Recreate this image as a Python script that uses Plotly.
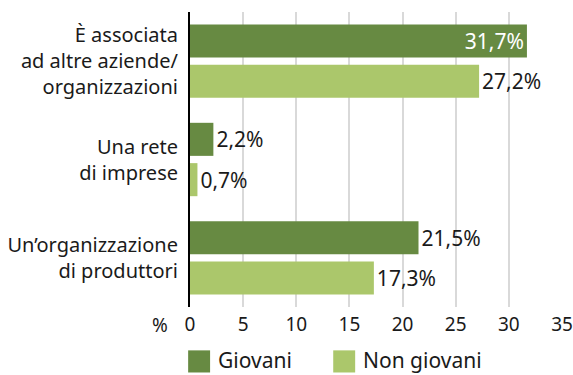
import plotly.graph_objects as go

categories = ["È associata<br>ad altre aziende/<br>organizzazioni",
              "Una rete<br>di imprese",
              "Un’organizzazione<br>di produttori"]
series_names = ["Giovani", "Non giovani"]
giovani = [31.7, 2.2, 21.5]
non_giovani = [27.2, 0.7, 17.3]
x_ticks = [0, 5, 10, 15, 20, 25, 30, 35]

DARK = "#678a42"
LIGHT = "#abc76b"
FONT = "Noto Sans"
TEXT = "#1a1a1a"


def fmt(v):
    return f"{v:.1f}".replace(".", ",") + "%"


def positions(vals, threshold=30):
    return ["inside" if v >= threshold else "outside" for v in vals]


fig = go.Figure()
for name, vals, color in zip(series_names, [giovani, non_giovani], [DARK, LIGHT]):
    fig.add_trace(go.Bar(
        y=categories, x=vals, orientation="h", name=name,
        marker=dict(color=color, line=dict(width=0)),
        text=[fmt(v) for v in vals], textposition=positions(vals),
        insidetextanchor="end",
        insidetextfont=dict(color="white", size=21, family=FONT),
        outsidetextfont=dict(color=TEXT, size=21, family=FONT),
        cliponaxis=False, showlegend=False,
    ))

fig.update_layout(
    width=573, height=375,
    margin=dict(l=190, r=11, t=12, b=68, autoexpand=False),
    paper_bgcolor="white", plot_bgcolor="white",
    barmode="group", bargap=0.18, bargroupgap=0.18,
    font=dict(family=FONT, size=20, color=TEXT),
    showlegend=False,
    uniformtext=dict(minsize=21, mode="show"),
)
fig.update_xaxes(
    range=[0, 35], tickvals=x_ticks, ticktext=[str(t) for t in x_ticks],
    showgrid=True, gridcolor="#d9d9d9", gridwidth=1.5,
    zeroline=False, showline=False, automargin=False,
    tickfont=dict(size=19, family=FONT, color=TEXT),
    ticks="", ticklabelstandoff=4, fixedrange=True,
)
fig.update_yaxes(
    autorange="reversed", showline=True, linecolor="black", linewidth=2,
    ticks="", automargin=False,
    tickfont=dict(size=20, family=FONT, color=TEXT),
    ticklabelstandoff=6,
)
fig.add_annotation(text="%", xref="paper", yref="paper", x=-0.055, y=-0.062,
                   xanchor="right", yanchor="middle", showarrow=False,
                   font=dict(size=19, family=FONT, color=TEXT))

# legend: swatch + label per series, laid out below the axis
legend_x = [-0.005, 0.385]
for name, color, lx in zip(series_names, [DARK, LIGHT], legend_x):
    fig.add_shape(type="rect", xref="paper", yref="paper",
                  x0=lx, x1=lx + 0.059, y0=-0.222, y1=-0.147,
                  fillcolor=color, line=dict(width=0))
    fig.add_annotation(text=name, xref="paper", yref="paper",
                       x=lx + 0.074, y=-0.18, xanchor="left", yanchor="middle",
                       showarrow=False,
                       font=dict(size=21, family=FONT, color=TEXT))

fig.write_html("out.html")
